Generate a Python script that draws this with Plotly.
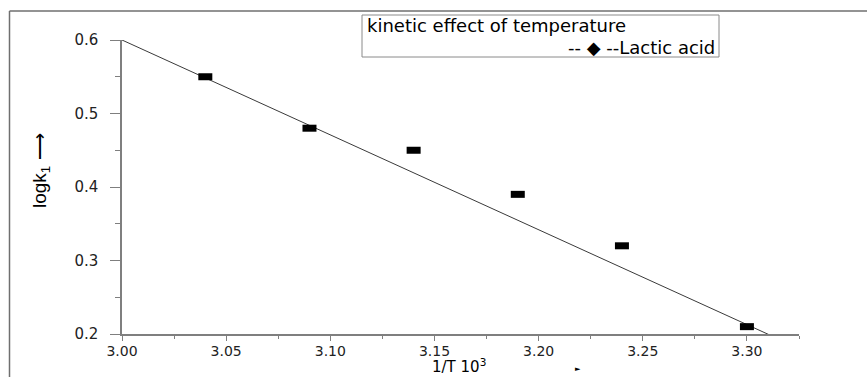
import plotly.graph_objects as go

# data
inv_T = [3.04, 3.09, 3.14, 3.19, 3.24, 3.30]
log_k1 = [0.55, 0.48, 0.45, 0.39, 0.32, 0.21]
fit_x = [3.00, 3.313]
fit_y = [0.60, 0.196]

W, H = 867, 377
L, R, T, B = 122, 68, 40, 43
PW, PH = W - L - R, H - T - B


def px(x):
    return (x - L) / PW


def py(y):
    return (H - B - y) / PH


AX = "#7f7f7f"
fig = go.Figure()
fig.add_trace(go.Scatter(x=fit_x, y=fit_y, mode="lines",
                         line=dict(color="#3a3a3a", width=1), showlegend=False,
                         hoverinfo="skip"))
fig.add_trace(go.Scatter(x=inv_T, y=log_k1, mode="markers", name="Lactic acid",
                         marker=dict(symbol="line-ew", size=10,
                                     line=dict(color="black", width=7)),
                         showlegend=False, cliponaxis=False))

fig.update_xaxes(range=[3.0, 3.325], dtick=0.05, tick0=3.0, tickformat=".2f",
                 showgrid=False, zeroline=False, showline=True, linecolor=AX,
                 linewidth=1.5, ticks="outside", ticklen=5, tickcolor=AX,
                 tickwidth=1, ticklabelstandoff=-2,
                 tickfont=dict(family="DejaVu Sans", size=14, color="#222"),
                 minor=dict(dtick=0.025, tick0=3.0, ticks="outside", ticklen=3,
                            tickcolor=AX, showgrid=False))
fig.update_yaxes(range=[0.2, 0.6], dtick=0.1, tick0=0.2, tickformat=".1f",
                 showgrid=False, zeroline=False, showline=True, linecolor=AX,
                 linewidth=1.5, ticks="outside", ticklen=10, tickcolor=AX,
                 tickwidth=1, ticklabelstandoff=9,
                 tickfont=dict(family="DejaVu Sans", size=15, color="#222"),
                 minor=dict(dtick=0.05, tick0=0.2, ticks="outside", ticklen=5,
                            tickcolor=AX, showgrid=False))

shapes = [
    # cropped outer frame (left and top edges)
    dict(type="line", xref="paper", yref="paper", x0=px(9.5), x1=px(9.5),
         y0=py(11), y1=py(377), line=dict(color="#6f6f6f", width=1.5)),
    dict(type="line", xref="paper", yref="paper", x0=px(9.5), x1=px(867),
         y0=py(11), y1=py(11), line=dict(color="#6f6f6f", width=1.5)),
    # legend box
    dict(type="rect", xref="paper", yref="paper", x0=px(362), x1=px(719),
         y0=py(57), y1=py(15), line=dict(color="#8a8a8a", width=1),
         fillcolor="white"),
]

legfont = dict(family="DejaVu Sans", size=18, color="black")
annotations = [
    dict(text="kinetic effect of temperature", xref="paper", yref="paper",
         x=px(366), y=py(26), xanchor="left", yanchor="middle", borderpad=0,
         showarrow=False, font=legfont),
    dict(text="-- ◆ --Lactic acid", xref="paper", yref="paper",
         x=px(716), y=py(47), xanchor="right", yanchor="middle", borderpad=0,
         showarrow=False, font=legfont),
    dict(text="logk<sub>1</sub> ⟶", xref="paper", yref="paper",
         x=px(41), y=py(171), xanchor="center", yanchor="middle",
         textangle=-90, showarrow=False,
         font=dict(family="Liberation Sans", size=19, color="black")),
    dict(text="1/T 10<sup>3</sup>", xref="paper", yref="paper",
         x=px(459), y=py(366), xanchor="center", yanchor="middle",
         showarrow=False,
         font=dict(family="DejaVu Sans", size=15, color="black")),
    dict(text="►", xref="paper", yref="paper",
         x=px(578), y=py(369), xanchor="center", yanchor="middle",
         showarrow=False,
         font=dict(family="DejaVu Sans", size=7, color="black")),
]

fig.update_layout(width=W, height=H, margin=dict(l=L, r=R, t=T, b=B),
                  plot_bgcolor="white", paper_bgcolor="white",
                  shapes=shapes, annotations=annotations, showlegend=False)

fig.write_html("out.html", config={"displayModeBar": False},
               post_script="document.body.style.margin='0';"
                           "document.body.style.overflow='hidden';")
